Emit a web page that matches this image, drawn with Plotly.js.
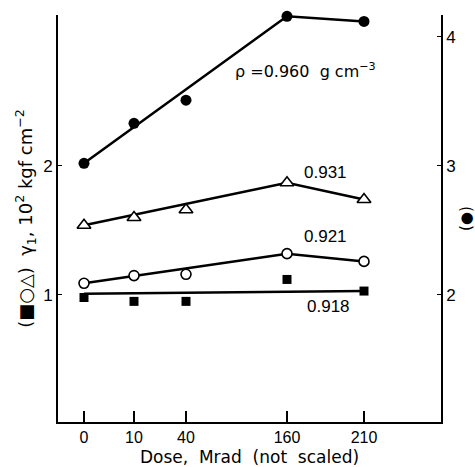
<!DOCTYPE html>
<html>
<head>
<meta charset="utf-8">
<script src="https://cdn.plot.ly/plotly-3.0.1.min.js"></script>
<style>html,body{margin:0;padding:0;background:#fff;}#chart{width:475px;height:467px;}</style>
</head>
<body>
<div id="chart"></div>
<script>
// Dose categories (axis not scaled) and their plotted positions
const doses = ['0', '10', '40', '160', '210'];
const dosePos = [0, 1, 2.04, 4.06, 5.6];

// rho = 0.960 g cm^-3 (filled circles, right axis)
const rho960 = [3.02, 3.33, 3.51, 4.16, 4.12];
// rho = 0.931 (open triangles, left axis)
const rho931 = [1.54, 1.60, 1.66, 1.87, 1.74];
// rho = 0.921 (open circles, left axis)
const rho921 = [1.09, 1.15, 1.16, 1.32, 1.26];
// rho = 0.918 (filled squares, left axis)
const rho918 = [0.98, 0.95, 0.95, 1.12, 1.03];

// drawn trend lines (through doses 0, 160, 210)
const lineIdx = [0, 3, 4];
const fit918Doses = [0, 4];
const fit918 = [1.01, 1.03];

const leftTicks = [1, 2];
const rightTicks = [1, 2, 3, 4];

const F = 'Liberation Sans, Arial, sans-serif';
const D = 'DejaVu Sans, sans-serif';
const lineStyle = {color: '#000', width: 2.5};

const pick = (arr, idx) => idx.map(i => arr[i]);

const traces = [
  {x: pick(dosePos, lineIdx), y: pick(rho960, lineIdx), yaxis: 'y2', mode: 'lines', line: lineStyle, hoverinfo: 'skip'},
  {x: dosePos, y: rho960, yaxis: 'y2', mode: 'markers', marker: {symbol: 'circle', size: 11, color: '#000'}, cliponaxis: false},
  {x: pick(dosePos, lineIdx), y: pick(rho931, lineIdx), mode: 'lines', line: lineStyle, hoverinfo: 'skip'},
  {x: dosePos, y: rho931, mode: 'markers', marker: {symbol: 'triangle-up', size: 12, color: '#fff', line: {color: '#000', width: 1.6}}},
  {x: pick(dosePos, lineIdx), y: pick(rho921, lineIdx), mode: 'lines', line: lineStyle, hoverinfo: 'skip'},
  {x: dosePos, y: rho921, mode: 'markers', marker: {symbol: 'circle', size: 10, color: '#fff', line: {color: '#000', width: 1.6}}},
  {x: pick(dosePos, fit918Doses), y: fit918, mode: 'lines', line: lineStyle, hoverinfo: 'skip'},
  {x: dosePos, y: rho918, mode: 'markers', marker: {symbol: 'square', size: 9, color: '#000'}}
];

const layout = {
  width: 475, height: 467,
  margin: {l: 58, r: 34, t: 15, b: 45},
  paper_bgcolor: '#fff', plot_bgcolor: '#fff',
  showlegend: false,
  font: {family: F, size: 17, color: '#000'},
  xaxis: {
    range: [-0.52, 7.14],
    tickvals: dosePos, ticktext: doses,
    ticks: 'inside', ticklen: 11, tickwidth: 1.2, tickcolor: '#000',
    showgrid: false, zeroline: false,
    showline: true, linecolor: '#000', linewidth: 1.8,
    tickfont: {family: F, size: 16},
    title: {text: 'Dose,  Mrad  (not  scaled)', font: {family: D, size: 17}, standoff: 6}
  },
  yaxis: {
    range: [0.015, 3.17],
    tickvals: leftTicks, ticktext: leftTicks.map(String),
    ticks: 'inside', ticklen: 4, tickcolor: '#000',
    showgrid: false, zeroline: false,
    showline: true, linecolor: '#000', linewidth: 1.8,
    tickfont: {family: F, size: 17},
    title: {text: '(■○△)  γ<sub>1</sub>, 10<sup>2</sup> kgf cm<sup>−2</sup>', font: {family: D, size: 18}, standoff: 6}
  },
  yaxis2: {
    overlaying: 'y', side: 'right',
    range: [1.015, 4.17],
    tickvals: rightTicks, ticktext: rightTicks.map(String),
    ticks: 'inside', ticklen: 4, tickcolor: '#000',
    showgrid: false, zeroline: false,
    showline: true, linecolor: '#000', linewidth: 1.8,
    tickfont: {family: F, size: 17},
    title: {text: '(●)', font: {family: D, size: 15}, standoff: 10}
  },
  annotations: [
    {x: 2.98, y: 2.74, xref: 'x', yref: 'y', xanchor: 'left', yanchor: 'middle', showarrow: false,
     text: 'ρ =0.960  g cm<sup>−3</sup>', font: {family: D, size: 16}},
    {x: 4.36, y: 1.95, xref: 'x', yref: 'y', xanchor: 'left', yanchor: 'middle', showarrow: false,
     text: '0.931', font: {family: F, size: 17}},
    {x: 4.36, y: 1.45, xref: 'x', yref: 'y', xanchor: 'left', yanchor: 'middle', showarrow: false,
     text: '0.921', font: {family: F, size: 17}},
    {x: 4.42, y: 0.91, xref: 'x', yref: 'y', xanchor: 'left', yanchor: 'middle', showarrow: false,
     text: '0.918', font: {family: F, size: 17}}
  ]
};

Plotly.newPlot('chart', traces, layout, {displayModeBar: false, staticPlot: true});
</script>
</body>
</html>
